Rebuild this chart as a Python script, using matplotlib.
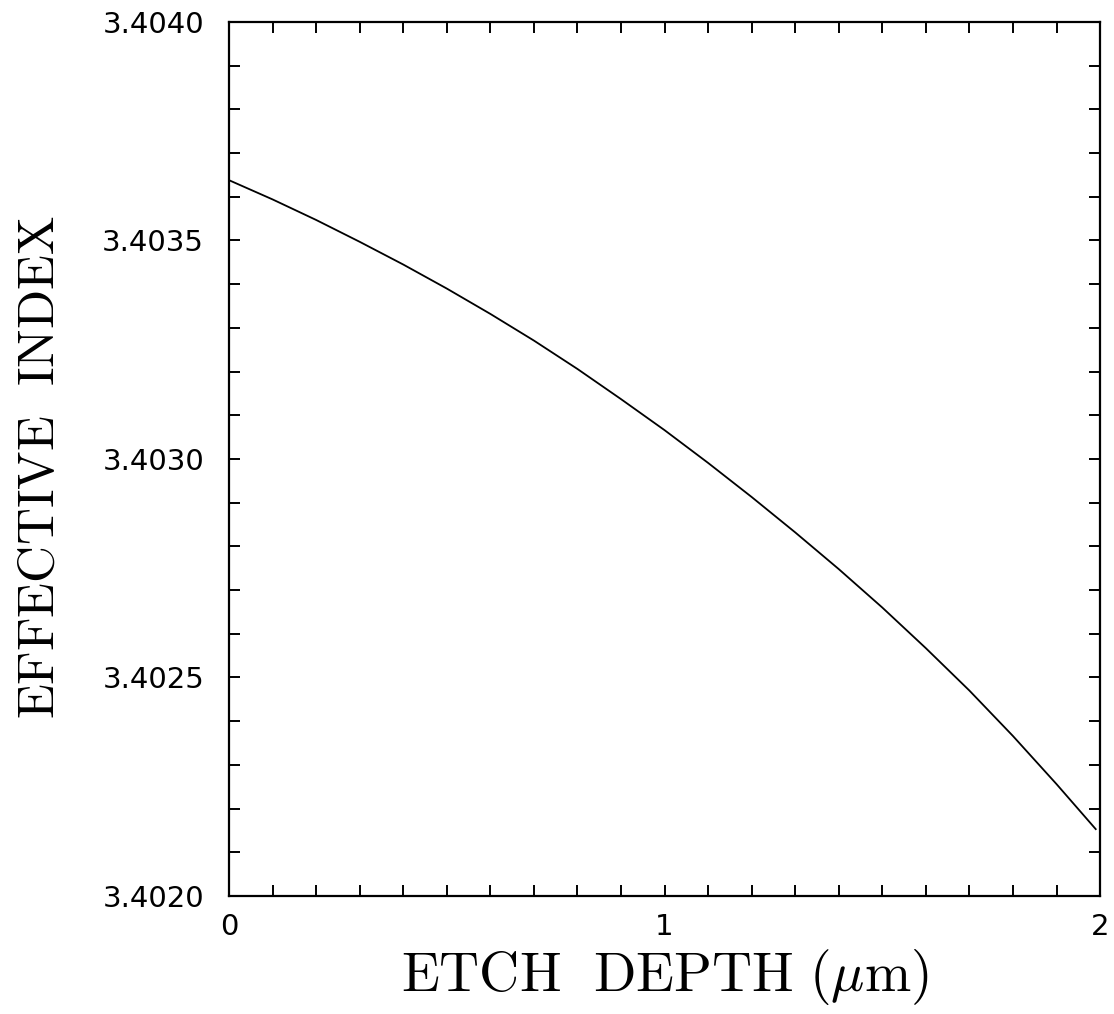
import matplotlib.pyplot as plt
from matplotlib.ticker import MultipleLocator, FixedFormatter, FixedLocator

plt.rcParams['mathtext.fontset'] = 'cm'

# etch depth (um) and effective index
depth = [0.0, 0.1, 0.2, 0.3, 0.4, 0.5, 0.6, 0.7, 0.8, 0.9, 1.0,
         1.1, 1.2, 1.3, 1.4, 1.5, 1.6, 1.7, 1.8, 1.9, 1.99]
n_eff = [3.403638, 3.403594, 3.403547, 3.403497, 3.403445, 3.403390,
         3.403332, 3.403271, 3.403206, 3.403137, 3.403066, 3.402991,
         3.402913, 3.402832, 3.402748, 3.402660, 3.402567, 3.402470,
         3.402366, 3.402256, 3.402153]

xticks = [0, 1, 2]
xtick_labels = ['0', '1', '2']
yticks = [3.4020, 3.4025, 3.4030, 3.4035, 3.4040]
ytick_labels = ['3.4020', '3.4025', '3.4030', '3.4035', '3.4040']

fig = plt.figure(figsize=(11.14, 10.14), dpi=100)
ax = fig.add_axes([0.2056, 0.1164, 0.7819, 0.8619])

ax.plot(depth, n_eff, color='black', lw=1.3)

ax.set_xlim(0, 2)
ax.set_ylim(3.4020, 3.4040)

ax.xaxis.set_major_locator(FixedLocator(xticks))
ax.xaxis.set_major_formatter(FixedFormatter(xtick_labels))
ax.yaxis.set_major_locator(FixedLocator(yticks))
ax.yaxis.set_major_formatter(FixedFormatter(ytick_labels))
ax.xaxis.set_minor_locator(MultipleLocator(0.1))
ax.yaxis.set_minor_locator(MultipleLocator(0.0001))

ax.tick_params(which='both', direction='in', top=True, right=True,
               length=8, width=1.4, color='black')
ax.tick_params(axis='x', which='major', pad=12, labelsize=21)
ax.tick_params(axis='y', which='major', pad=18, labelsize=21)
for lab in ax.get_xticklabels() + ax.get_yticklabels():
    lab.set_family('DejaVu Sans')

for sp in ax.spines.values():
    sp.set_linewidth(1.6)

ax.set_xlabel(r'$\mathrm{ETCH\ \ DEPTH\ }(\mu\mathrm{m})$', fontsize=40)
ax.set_ylabel(r'$\mathrm{EFFECTIVE\ \ INDEX}$', fontsize=37)
ax.xaxis.set_label_coords(0.5, -0.058)
ax.yaxis.set_label_coords(-0.189, 0.491)

fig.savefig('out.png', dpi=100, facecolor='white')
